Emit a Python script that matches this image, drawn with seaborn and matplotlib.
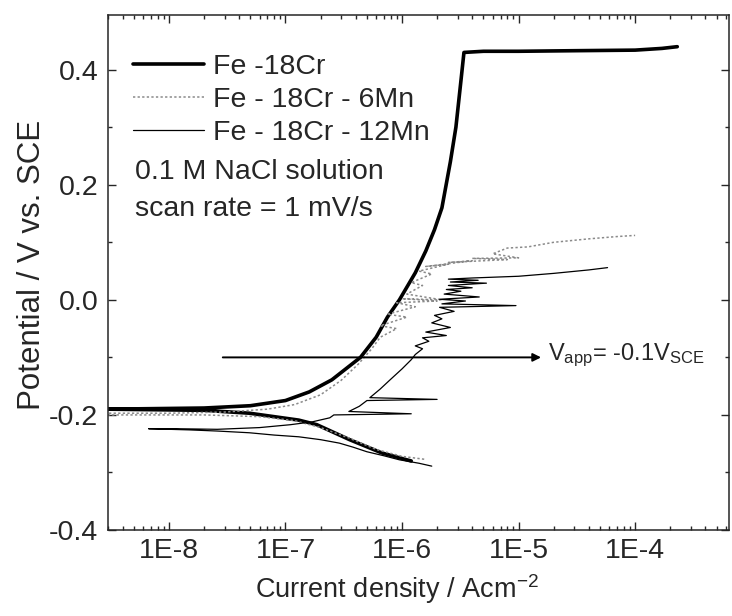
import numpy as np
import pandas as pd
import matplotlib
matplotlib.use('Agg')
import matplotlib.pyplot as plt
import seaborn as sns
from matplotlib.lines import Line2D
from matplotlib.ticker import FixedLocator, FuncFormatter, LogLocator, NullFormatter, MultipleLocator

# Fe-18Cr: cathodic branch (high current -> Ecorr) then anodic branch to passive plateau
fe18cr_i = [1.2e-6, 1.1e-6, 6.7e-7, 3.55e-7, 1.86e-7, 1.3e-7, 4.9e-8, 2e-8, 3e-9,
            3e-9, 2e-8, 5e-8, 1e-7, 1.6e-7, 2.5e-7, 4.4e-7, 6e-7, 7.5e-7, 9.5e-7,
            1.3e-6, 1.6e-6, 1.9e-6, 2.2e-6, 2.6e-6, 2.9e-6, 3.2e-6, 3.4e-6, 5e-6, 1e-5,
            3e-5, 1e-4, 1.7e-4, 2.3e-4]
fe18cr_e = [-0.280, -0.278, -0.266, -0.243, -0.217, -0.209, -0.197, -0.192, -0.190,
            -0.190, -0.188, -0.184, -0.175, -0.160, -0.139, -0.100, -0.065, -0.030, 0.000,
            0.047, 0.085, 0.122, 0.160, 0.240, 0.300, 0.380, 0.430, 0.432, 0.432,
            0.433, 0.434, 0.437, 0.440]

# Fe-18Cr-6Mn (dotted)
mn6_i = [1.55e-6, 1e-6, 6e-7, 3.5e-7, 2e-7, 1.2e-7, 6e-8, 2e-8, 3e-9,
         3e-9, 1e-8, 3e-8, 7e-8, 1.2e-7, 2e-7, 3e-7, 4.2e-7, 5.5e-7, 6.5e-7,
         9e-7, 6.5e-7, 1.1e-6, 7.5e-7, 1.3e-6, 9e-7, 2e-6, 1e-6, 2.2e-6, 1.1e-6,
         1.5e-6, 1.2e-6, 1.8e-6, 1.4e-6, 2.5e-6, 1.6e-6, 4e-6, 2.5e-6, 8e-6, 4e-6,
         1e-5, 6e-6, 8e-6, 1.2e-5, 2e-5, 4e-5, 7e-5, 1e-4]
mn6_e = [-0.277, -0.272, -0.260, -0.240, -0.222, -0.210, -0.203, -0.200, -0.200,
         -0.197, -0.197, -0.195, -0.190, -0.182, -0.165, -0.140, -0.112, -0.085, -0.065,
         -0.050, -0.045, -0.030, -0.025, -0.012, -0.005, -0.002, 0.002, 0.000, 0.010,
         0.025, 0.030, 0.045, 0.050, 0.062, 0.058, 0.068, 0.065, 0.070, 0.072,
         0.073, 0.080, 0.090, 0.092, 0.100, 0.106, 0.110, 0.112]

# Fe-18Cr-12Mn (thin solid)
mn12_i = [1.8e-6, 1.4e-6, 9.5e-7, 7e-7, 5e-7, 3.8e-7, 2.9e-7, 2e-7, 1.3e-7, 8e-8,
          4.9e-8, 2.6e-8, 1.5e-8, 6.7e-9,
          1.2e-8, 2.6e-8, 6e-8, 1.1e-7, 1.7e-7, 2.4e-7, 2.6e-7, 1.2e-6, 3.5e-7,
          4.3e-7, 5e-7, 2e-6, 5.3e-7, 6.5e-7, 7.9e-7, 1e-6, 1.2e-6, 1.3e-6,
          1.5e-6, 1.3e-6, 1.7e-6, 1.5e-6, 2.4e-6, 1.6e-6, 2.6e-6, 1.8e-6, 2.2e-6,
          1.9e-6, 2.8e-6, 2.1e-6, 9.5e-6, 2.2e-6, 3.5e-6, 2.1e-6, 4.6e-6, 2.3e-6,
          3.2e-6, 2.4e-6, 4e-6, 2.5e-6, 5.3e-6, 2.6e-6, 4.5e-6, 2.5e-6, 4e-6,
          1e-5, 2e-5, 4e-5, 5.8e-5]
mn12_e = [-0.289, -0.284, -0.278, -0.271, -0.264, -0.256, -0.249, -0.243, -0.238, -0.235,
          -0.231, -0.228, -0.226, -0.224,
          -0.224, -0.225, -0.222, -0.217, -0.212, -0.205, -0.200, -0.198, -0.194,
          -0.185, -0.175, -0.173, -0.170, -0.155, -0.139, -0.120, -0.104, -0.095,
          -0.085, -0.080, -0.072, -0.066, -0.062, -0.056, -0.048, -0.040, -0.033,
          -0.027, -0.020, -0.013, -0.010, -0.007, -0.002, 0.001, 0.005, 0.010,
          0.015, 0.018, 0.021, 0.025, 0.029, 0.031, 0.034, 0.036, 0.038,
          0.041, 0.046, 0.052, 0.056]

series_names = ['Fe -18Cr', 'Fe - 18Cr - 6Mn', 'Fe - 18Cr - 12Mn']
notes = ['0.1 M NaCl solution', 'scan rate = 1 mV/s']
x_ticks = [1e-8, 1e-7, 1e-6, 1e-5, 1e-4]
y_ticks = [-0.4, -0.2, 0.0, 0.2, 0.4]
v_app = -0.1

sns.set_style('ticks')
plt.rcParams['font.family'] = ['Liberation Sans', 'DejaVu Sans']
plt.rcParams['mathtext.fontset'] = 'custom'
plt.rcParams['mathtext.rm'] = 'Liberation Sans'
plt.rcParams['mathtext.default'] = 'regular'

FS = 20.5

fig = plt.figure(figsize=(7.32, 6.16), dpi=100)
ax = fig.add_axes([0.1475, 0.1396, 0.996 - 0.1475, 0.9756 - 0.1396])

styles = [
    dict(color='black', lw=2.6, ls='-'),
    dict(color='#8a8a8a', lw=1.1, ls=(0, (1.5, 1.5))),
    dict(color='black', lw=0.9, ls='-'),
]
curves = [(fe18cr_i, fe18cr_e), (mn6_i, mn6_e), (mn12_i, mn12_e)]

for (cur, pot), st in zip(curves, styles):
    df = pd.DataFrame({'i': cur, 'E': pot})
    sns.lineplot(data=df, x='i', y='E', sort=False, estimator=None, ax=ax,
                 color=st['color'], lw=st['lw'], ls=st['ls'])

ax.set_xscale('log')
ax.set_xlim(3.0e-9, 6.4e-4)
ax.set_ylim(-0.4, 0.495)

ax.xaxis.set_major_locator(FixedLocator(x_ticks))
ax.xaxis.set_major_formatter(FuncFormatter(lambda v, p: '1E%d' % int(round(np.log10(v)))))
ax.xaxis.set_minor_locator(LogLocator(base=10, subs=np.arange(2, 10), numticks=20))
ax.xaxis.set_minor_formatter(NullFormatter())
ax.yaxis.set_major_locator(FixedLocator(y_ticks))
ax.yaxis.set_major_formatter(FuncFormatter(lambda v, p: '%.1f' % v))
ax.yaxis.set_minor_locator(MultipleLocator(0.1))

ax.tick_params(which='both', direction='in', top=True, right=True, width=1.0)
ax.tick_params(which='major', length=5.5)
ax.tick_params(which='minor', length=3)
ax.tick_params(axis='x', which='major', labelsize=FS, pad=6)
ax.tick_params(axis='y', which='major', labelsize=FS, pad=7)
for sp in ax.spines.values():
    sp.set_linewidth(1.1)
    sp.set_visible(True)

ax.set_xlabel('Current density / Acm$^{-2}$', fontsize=19.5)
ax.set_ylabel('Potential / V vs. SCE', fontsize=22.5)
ax.xaxis.set_label_coords(0.465, -0.082)
ax.yaxis.set_label_coords(-0.098, 0.515)

handles = [Line2D([], [], **st) for st in styles]
ax.legend(handles, series_names, loc='upper left', bbox_to_anchor=(0.04, 0.925),
          frameon=False, fontsize=FS, handlelength=2.5, handletextpad=0.3,
          labelspacing=0.25, borderpad=0, borderaxespad=0)

ax.text(0.0435, 0.695, notes[0], transform=ax.transAxes, fontsize=FS, va='center')
ax.text(0.0435, 0.623, notes[1], transform=ax.transAxes, fontsize=FS, va='center')

ax.annotate('', xy=(1.56e-5, v_app), xytext=(2.9e-8, v_app),
            arrowprops=dict(arrowstyle='-|>', color='black', lw=1.4,
                            mutation_scale=12, shrinkA=0, shrinkB=0))
ax.text(1.8e-5, v_app + 0.004, r'V$_{app}$= -0.1V$_{SCE}$', fontsize=17, va='center')

fig.savefig('out.png', dpi=100)
